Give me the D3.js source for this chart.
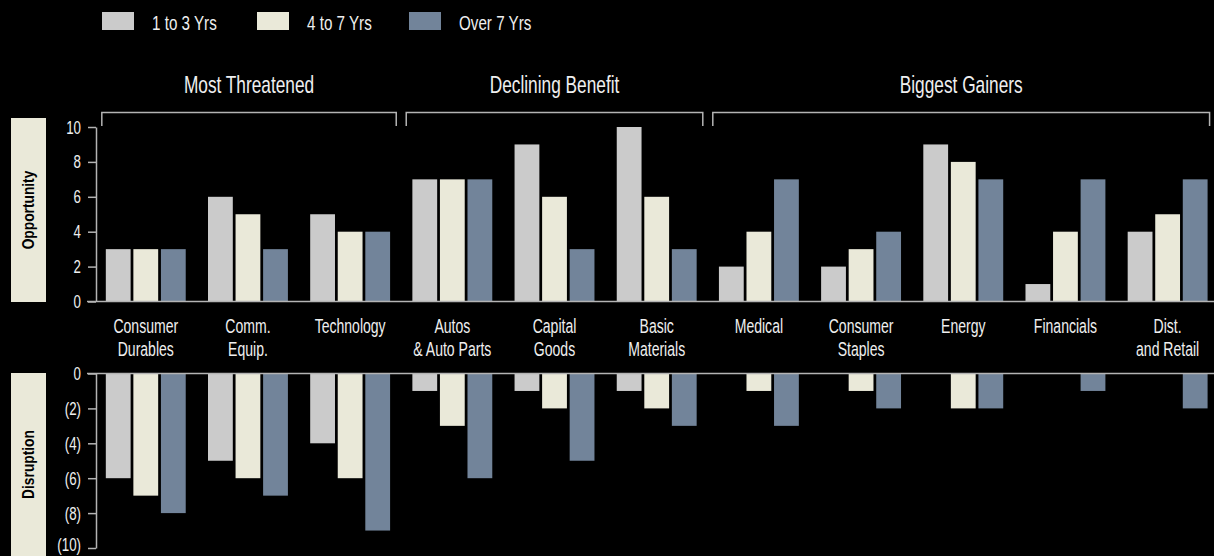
<!DOCTYPE html>
<html>
<head>
<meta charset="utf-8">
<script src="https://cdn.jsdelivr.net/npm/d3@7"></script>
<style>
  html, body { margin: 0; padding: 0; background: #000; }
  svg { display: block; }
</style>
</head>
<body>
<svg id="chart" width="1214" height="556"></svg>
<script>
// Sectors and their two-line labels
const categories = ["Consumer Durables", "Comm. Equip.", "Technology", "Autos & Auto Parts",
  "Capital Goods", "Basic Materials", "Medical", "Consumer Staples", "Energy",
  "Financials", "Dist. and Retail"];
const labelLine1 = ["Consumer", "Comm.", "Technology", "Autos", "Capital", "Basic",
  "Medical", "Consumer", "Energy", "Financials", "Dist."];
const labelLine2 = ["Durables", "Equip.", "", "& Auto Parts", "Goods", "Materials",
  "", "Staples", "", "", "and Retail"];

// Time horizons (series)
const seriesNames = ["1 to 3 Yrs", "4 to 7 Yrs", "Over 7 Yrs"];
const seriesColors = ["#cbcbcb", "#eae9d9", "#72849a"];

// Opportunity scores per horizon
const opp13 = [3, 6, 5, 7, 9, 10, 2, 2, 9, 1, 4];
const opp47 = [3, 5, 4, 7, 6, 6, 4, 3, 8, 4, 5];
const opp7p = [3, 3, 4, 7, 3, 3, 7, 4, 7, 7, 7];

// Disruption scores per horizon
const dis13 = [-6, -5, -4, -1, -1, -1, 0, 0, 0, 0, 0];
const dis47 = [-7, -6, -6, -3, -2, -2, -1, -1, -2, 0, 0];
const dis7p = [-8, -7, -9, -6, -5, -3, -3, -2, -2, -1, -2];

// Sector groupings
const groupNames = ["Most Threatened", "Declining Benefit", "Biggest Gainers"];
const groupFirst = [0, 3, 6];
const groupLast = [2, 5, 10];

// Axis ticks
const oppTicks = [0, 2, 4, 6, 8, 10];
const disTicks = [0, -2, -4, -6, -8, -10];

const FONT = "'Liberation Sans', Arial, sans-serif";
const SX = 0.72;          // horizontal squeeze for the condensed look
const TEXT = "#efefef";
const AXIS = "#b4b4b4";

const svg = d3.select("#chart");

function label(parent, x, y, str, size, anchor, opts = {}) {
  return parent.append("text")
    .attr("transform", `translate(${x},${y})` + (opts.rotate ? ` rotate(${opts.rotate})` : "") + ` scale(${opts.sx ?? SX},1)`)
    .attr("text-anchor", anchor)
    .attr("font-family", FONT)
    .attr("font-size", size)
    .attr("font-weight", opts.bold ? "bold" : "normal")
    .attr("fill", opts.fill || TEXT)
    .text(str);
}

// Scales
const x0 = d3.scaleBand().domain(categories).range([95.8, 1217.6])
  .paddingInner(0.218).paddingOuter(0.098);
const x1 = d3.scaleBand().domain(seriesNames).range([0, x0.bandwidth()]).paddingInner(0.1);
const yOpp = d3.scaleLinear().domain([0, 10]).range([301.5, 127]);
const yDis = d3.scaleLinear().domain([-10, 0]).range([548, 373.5]);

const oppSeries = [opp13, opp47, opp7p];
const disSeries = [dis13, dis47, dis7p];

// Side panel labels
const sidebar = [["Opportunity", 118, 302], ["Disruption", 373, 556]];
sidebar.forEach(([name, y0, y1]) => {
  svg.append("rect").attr("x", 11).attr("y", y0).attr("width", 35).attr("height", y1 - y0)
    .attr("fill", "#eae9d9");
  label(svg, 34, (y0 + y1) / 2, name, 17, "middle", { rotate: -90, sx: 0.81, bold: true, fill: "#000" });
});

// Bars
function drawBars(seriesVals, y) {
  const g = svg.append("g");
  seriesVals.forEach((vals, si) => {
    g.selectAll(null).data(vals.map((v, i) => ({ v, c: categories[i] })).filter(d => d.v !== 0))
      .join("rect")
      .attr("x", d => x0(d.c) + x1(seriesNames[si]))
      .attr("width", x1.bandwidth())
      .attr("y", d => Math.min(y(d.v), y(0)))
      .attr("height", d => Math.abs(y(d.v) - y(0)))
      .attr("fill", seriesColors[si]);
  });
}
drawBars(oppSeries, yOpp);
drawBars(disSeries, yDis);

// Axes
function drawAxis(y, ticks, fmt, dy) {
  const g = svg.append("g").attr("transform", "translate(96,0)")
    .call(d3.axisLeft(y).tickValues(ticks).tickSize(8).tickSizeOuter(0).tickPadding(8).tickFormat(() => ""));
  g.select(".domain").attr("stroke", AXIS).attr("stroke-width", 1.5);
  g.selectAll(".tick line").attr("stroke", AXIS).attr("stroke-width", 1.5);
  ticks.forEach(t => label(svg, 81, Math.min(y(t) + dy, 551), fmt(t), 18.5, "end"));
  svg.append("line").attr("x1", 87).attr("x2", 1214).attr("y1", y(0)).attr("y2", y(0))
    .attr("stroke", AXIS).attr("stroke-width", 1.5);
}
drawAxis(yOpp, oppTicks, d => String(d), 6.5);
drawAxis(yDis, disTicks, d => d === 0 ? "0" : `(${-d})`, 6.5);

// Category labels
categories.forEach((c, i) => {
  const cx = x0(c) + x0.bandwidth() / 2;
  label(svg, cx, 333, labelLine1[i], 19.5, "middle");
  if (labelLine2[i]) label(svg, cx, 355.5, labelLine2[i], 19.5, "middle");
});

// Group brackets and headings
groupNames.forEach((name, gi) => {
  const first = categories[groupFirst[gi]], last = categories[groupLast[gi]];
  const prevGap = gi > 0 ? (x0(categories[groupFirst[gi] - 1]) + x0.bandwidth() + x0(first)) / 2 : null;
  const nextGap = groupLast[gi] < categories.length - 1
    ? (x0(last) + x0.bandwidth() + x0(categories[groupLast[gi] + 1])) / 2 : null;
  const left = prevGap !== null ? prevGap + 5 : x0(first) - 4;
  const right = nextGap !== null ? nextGap - 5 : x0(last) + x0.bandwidth() + 2;
  svg.append("path")
    .attr("d", `M${left},126V112.5H${right}V126`)
    .attr("fill", "none").attr("stroke", AXIS).attr("stroke-width", 1.5);
  label(svg, (left + right) / 2, 93, name, 24, "middle");
});

// Legend
const legendX = [102, 257, 409];
seriesNames.forEach((s, i) => {
  svg.append("rect").attr("x", legendX[i]).attr("y", 12).attr("width", 32).attr("height", 18)
    .attr("fill", seriesColors[i]);
  label(svg, legendX[i] + 50, 29.5, s, 20, "start", { sx: 0.76 });
});
</script>
</body>
</html>
